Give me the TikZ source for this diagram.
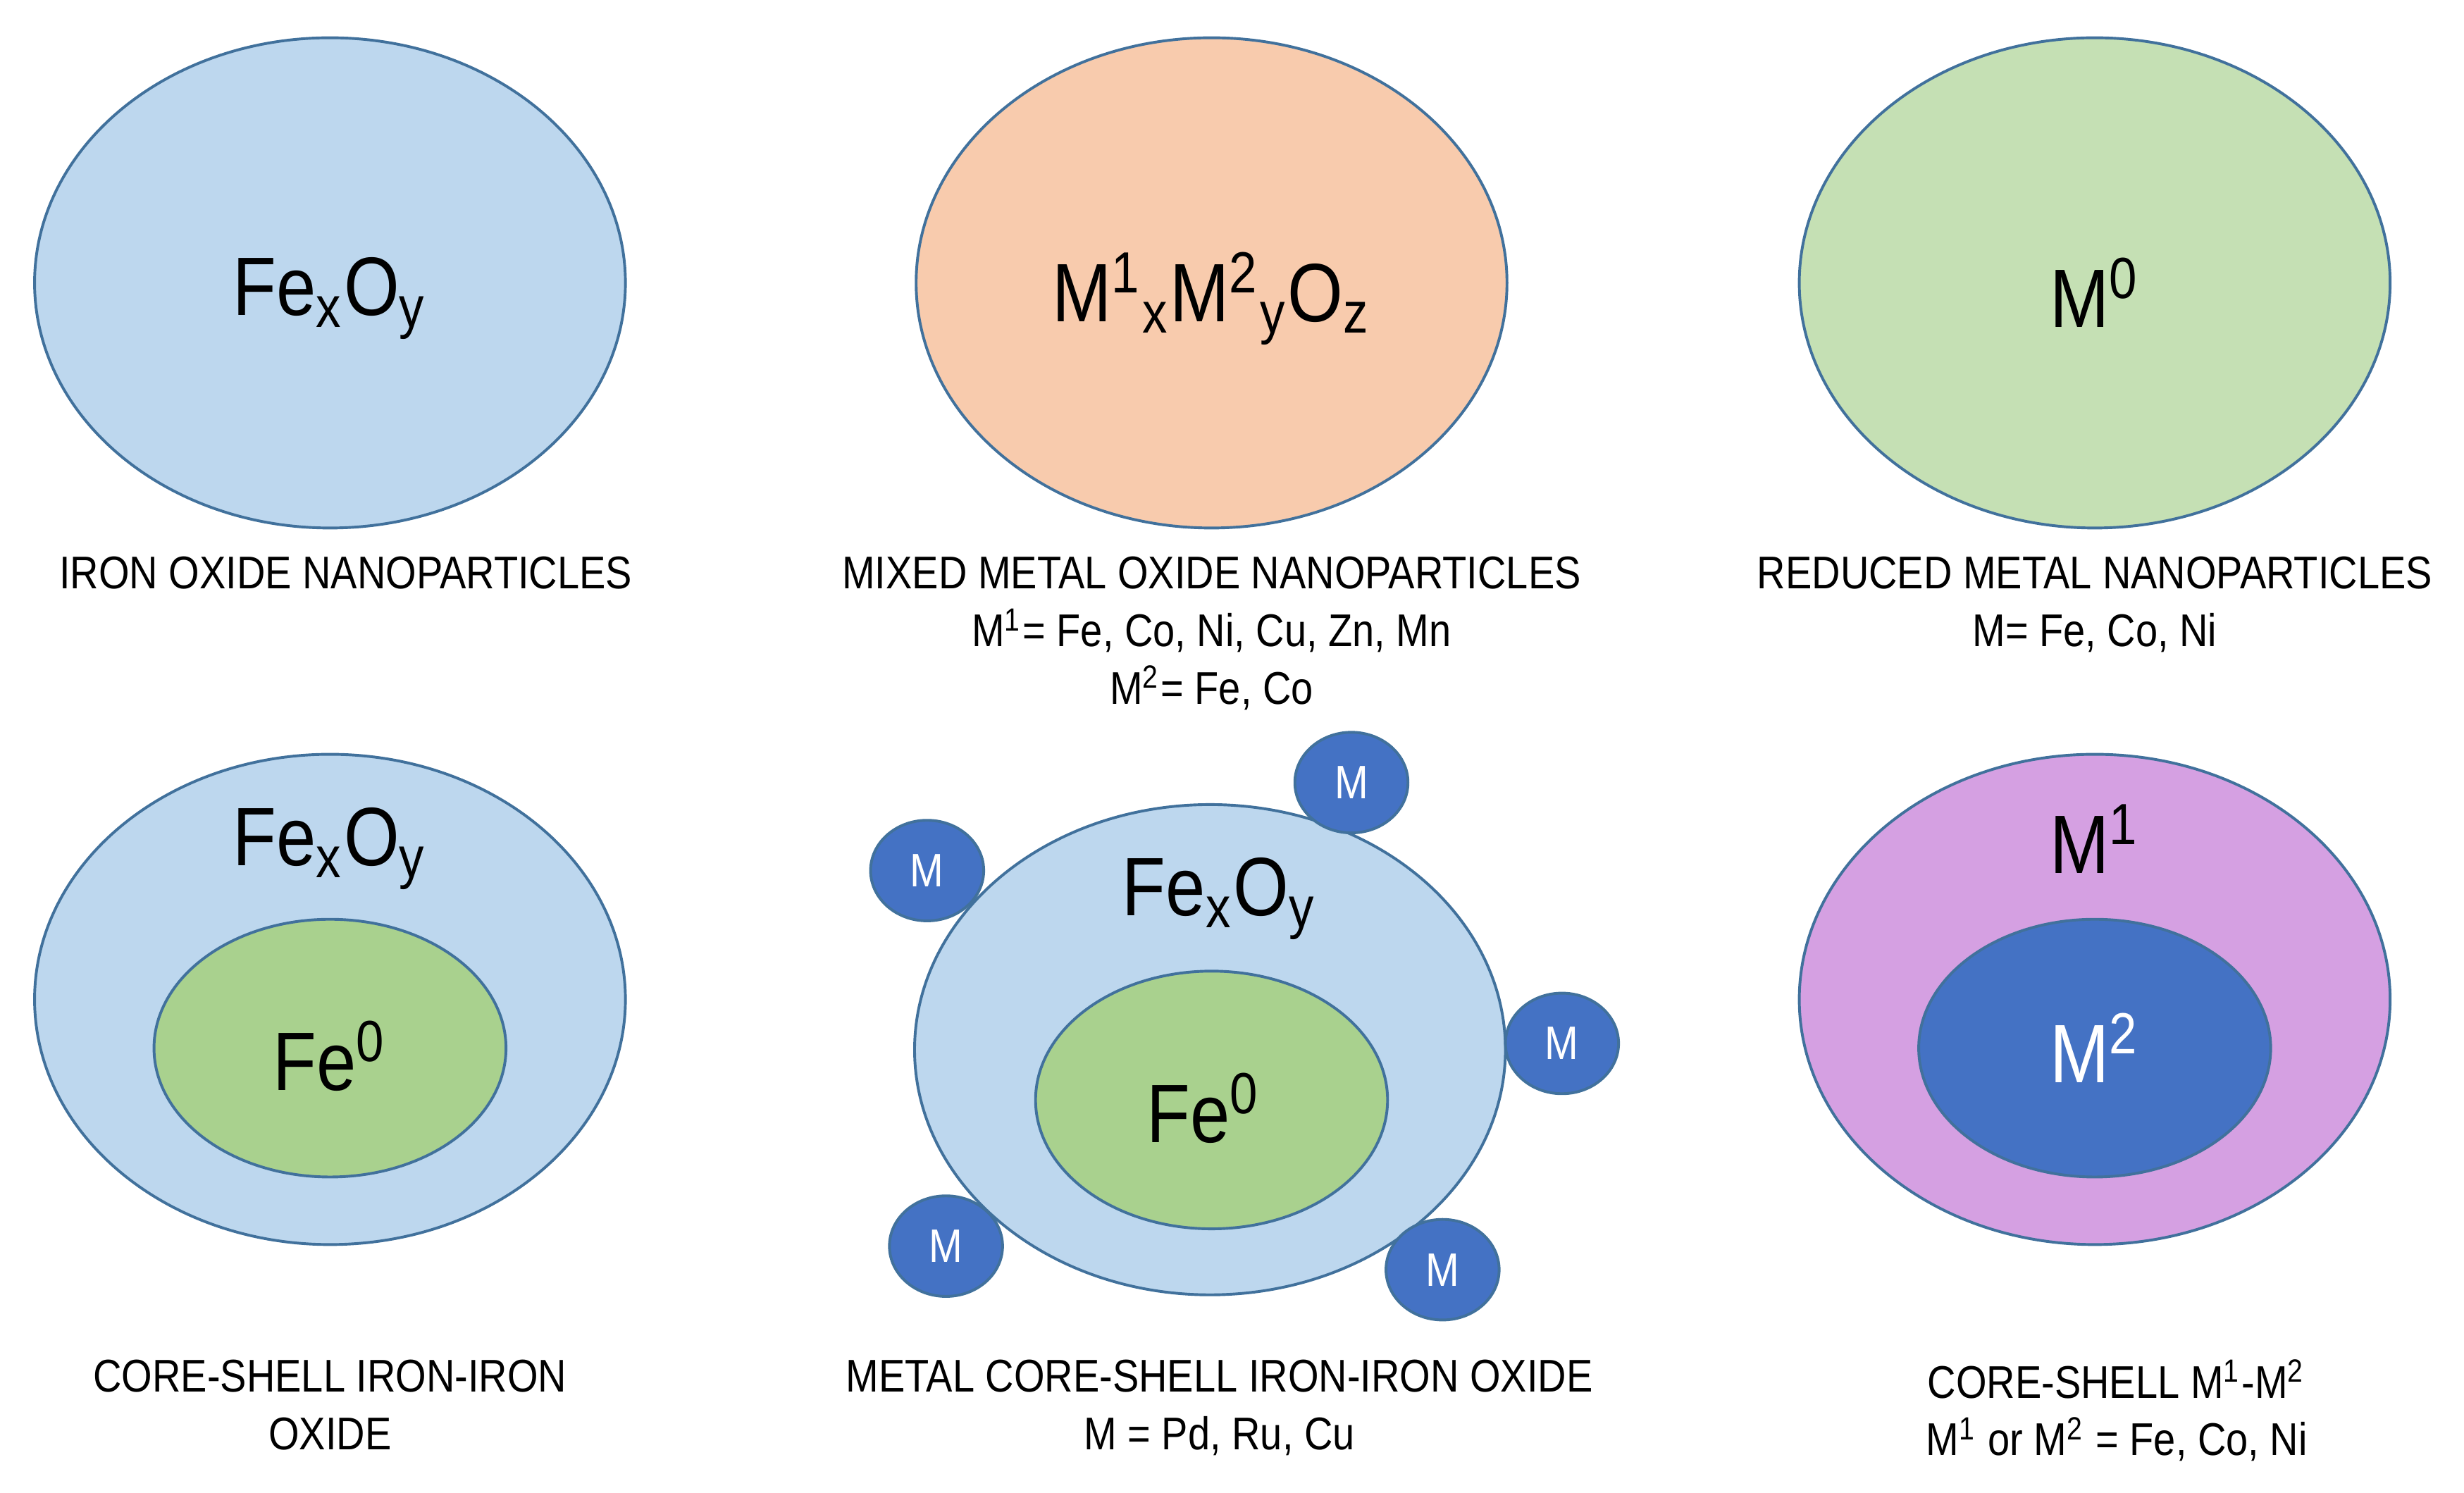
\documentclass[tikz,border=0pt]{standalone}
\usepackage{fontspec}
\setmainfont{Liberation Sans}[FakeStretch=0.86]
\newcommand{\Sp}[1]{\textsuperscript{#1}}
\newcommand{\Sb}[1]{\textsubscript{#1}}
\begin{document}
\begin{tikzpicture}[x=0.01cm,y=-0.01cm,
 lbl/.style={font=\fontsize{8.3}{10.4}\selectfont,align=center},
 big/.style={font=\fontsize{15}{17}\selectfont},
 sm/.style={fill=db,draw=bd,line width=0.5pt},
 ]
\definecolor{lb}{HTML}{BDD7EE}\definecolor{or}{HTML}{F8CBAD}
\definecolor{lg}{HTML}{C5E0B4}\definecolor{mg}{HTML}{A9D18E}
\definecolor{pu}{HTML}{D5A0E2}\definecolor{db}{HTML}{4472C4}
\definecolor{bd}{HTML}{41719C}
\useasboundingbox (0,0) rectangle (1568,950);
% top row
\filldraw[fill=lb,draw=bd,line width=0.5pt] (210,180) ellipse [x radius=188,y radius=156];
\node[big] (t1) at (210,190) {Fe\Sb{x}O\Sb{y}};
\filldraw[fill=or,draw=bd,line width=0.5pt] (771,180) ellipse [x radius=188,y radius=156];
\node[big] (t2) at (771,190) {M\Sp{1}\Sb{x}M\Sp{2}\Sb{y}O\Sb{z}};
\filldraw[fill=lg,draw=bd,line width=0.5pt] (1333,180) ellipse [x radius=188,y radius=156];
\node[big] (t3) at (1333,186) {M\Sp{0}};
\node[lbl,anchor=north] (c1) at (220,342) {IRON OXIDE NANOPARTICLES};
\node[lbl,anchor=north] (c2) at (771,342) {MIXED METAL OXIDE NANOPARTICLES\\M\Sp{1}= Fe, Co, Ni, Cu, Zn, Mn\\M\Sp{2}= Fe, Co};
\node[lbl,anchor=north] (c3) at (1333,342) {REDUCED METAL NANOPARTICLES\\M= Fe, Co, Ni};
% bottom left
\filldraw[fill=lb,draw=bd,line width=0.5pt] (210,636) ellipse [x radius=188,y radius=156];
\filldraw[fill=mg,draw=bd,line width=0.5pt] (210,667) ellipse [x radius=112,y radius=82];
\node[big] (b1a) at (210,540) {Fe\Sb{x}O\Sb{y}};
\node[big] (b1b) at (210,672) {Fe\Sp{0}};
% bottom middle
\filldraw[fill=lb,draw=bd,line width=0.5pt] (770,668) ellipse [x radius=188,y radius=156];
\filldraw[fill=mg,draw=bd,line width=0.5pt] (771,700) ellipse [x radius=112,y radius=82];
\node[big] (b2a) at (776,572) {Fe\Sb{x}O\Sb{y}};
\node[big] (b2b) at (766,705) {Fe\Sp{0}};
\foreach \n/\x/\y in {m1/590/554,m2/860/498,m3/994/664,m4/602/793,m5/918/808}{
 \filldraw[sm] (\x,\y) ellipse [x radius=36,y radius=32];
 \node[text=white,font=\fontsize{8.5}{9}\selectfont] (\n) at (\x,\y) {M};}
% bottom right
\filldraw[fill=pu,draw=bd,line width=0.5pt] (1333,636) ellipse [x radius=188,y radius=156];
\filldraw[fill=db,draw=bd,line width=0.5pt] (1333,667) ellipse [x radius=112,y radius=82];
\node[big] (b3a) at (1333,534) {M\Sp{1}};
\node[big,text=white] (b3b) at (1333,667) {M\Sp{2}};
\node[lbl,anchor=north] (c4) at (210,853) {CORE-SHELL IRON-IRON\\OXIDE};
\node[lbl,anchor=north] (c5) at (776,853) {METAL CORE-SHELL IRON-IRON OXIDE\\M = Pd, Ru, Cu};
\node[lbl,anchor=north] (c6) at (1347,853) {CORE-SHELL M\Sp{1}-M\Sp{2}\\M\Sp{1} or M\Sp{2} = Fe, Co, Ni};
\end{tikzpicture}
\end{document}
